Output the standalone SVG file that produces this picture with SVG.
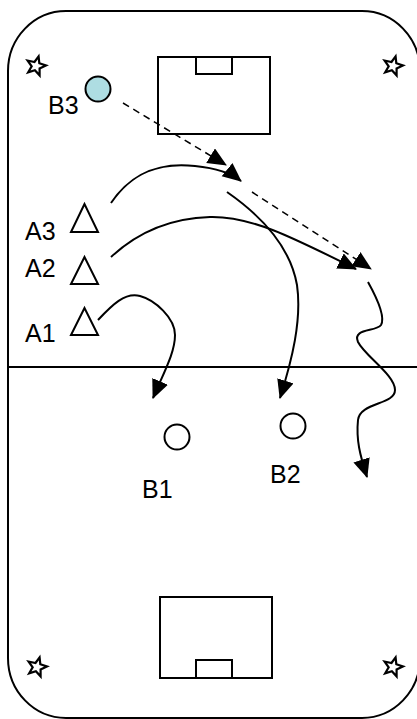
<svg xmlns="http://www.w3.org/2000/svg" width="417" height="719" viewBox="0 0 417 719">
<style>
.ln{fill:none;stroke:#000;stroke-width:2}
.mv{fill:none;stroke:#000;stroke-width:2;marker-end:url(#ah)}
.ball{fill:none;stroke:#000;stroke-width:1.5;stroke-dasharray:7 5;marker-end:url(#ah)}
.pl{fill:#fff;stroke:#000;stroke-width:2}
.lbl{font-family:"Liberation Sans",Arial,sans-serif;font-size:25px;fill:#000}
.star{fill:#fff;stroke:#000;stroke-width:2.2;stroke-linejoin:miter}
</style>
<defs>
<marker id="ah" markerWidth="20" markerHeight="18" refX="18" refY="8.5" orient="auto" markerUnits="userSpaceOnUse">
<path d="M0,0 L19,8.5 L0,17 Z" fill="#000"/>
</marker>
<path id="st" d="M0,-10 L2.5,-3.5 L9.5,-3.1 L4.1,1.4 L5.9,8.1 L0,4.3 L-5.9,8.1 L-4.1,1.4 L-9.5,-3.1 L-2.5,-3.5 Z"/>
</defs>
<rect width="417" height="719" fill="#fff"/>
<g id="field">
<rect x="8" y="11" width="412" height="707" rx="58" ry="60" class="ln"/>
<line x1="8" y1="367" x2="417" y2="367" class="ln"/>
<rect x="158" y="57" width="112" height="77" class="ln"/>
<rect x="196" y="57" width="36" height="17" class="ln"/>
<rect x="160" y="597" width="112" height="81" class="ln"/>
<rect x="196" y="660" width="36" height="18" class="ln"/>
<use href="#st" class="star" transform="translate(36,66) rotate(15)"/>
<use href="#st" class="star" transform="translate(393,66) rotate(15)"/>
<use href="#st" class="star" transform="translate(37,667) rotate(15)"/>
<use href="#st" class="star" transform="translate(393,667) rotate(15)"/>
</g>
<g id="B3">
<circle cx="98" cy="89" r="12.5" fill="#aedde2" stroke="#000" stroke-width="2"/>
<text x="48" y="114" class="lbl">B3</text>
</g>
<g id="A3">
<polygon points="84.5,204 71,232 98,232" class="pl"/>
<text x="25" y="240" class="lbl">A3</text>
</g>
<g id="A2">
<polygon points="84.5,257 71,284 98,284" class="pl"/>
<text x="25" y="277" class="lbl">A2</text>
</g>
<g id="A1">
<polygon points="84.5,308 71,335 98,335" class="pl"/>
<text x="25" y="342" class="lbl">A1</text>
</g>
<g id="B1">
<circle cx="177" cy="437" r="12.5" class="pl"/>
<text x="142" y="498" class="lbl">B1</text>
</g>
<g id="B2">
<circle cx="293" cy="426" r="12.5" class="pl"/>
<text x="270" y="483" class="lbl">B2</text>
</g>
<g id="connectors">
<path d="M123,103 L226,165" class="ball"/>
<path d="M252,192 L371,269" class="ball"/>
<path d="M111,203 C132,172 160,162 195,166 C215,168 230,172 241,181" class="mv"/>
<path d="M227,192 C260,215 290,245 297,285 C302,320 292,360 280,398" class="mv"/>
<path d="M111,257 C140,230 175,218 210,217 C250,216 290,236 356,269" class="mv"/>
<path d="M98,320 C112,305 125,292 140,296 C155,300 175,318 175,335 C175,352 165,370 153,398" class="mv"/>
<path d="M368,282 C378,300 385,318 381,325 C376,332 352,328 358,342 C365,356 395,375 395,390 C395,405 360,402 358,420 C356,440 360,455 367,477" class="mv"/>
</g>
</svg>
